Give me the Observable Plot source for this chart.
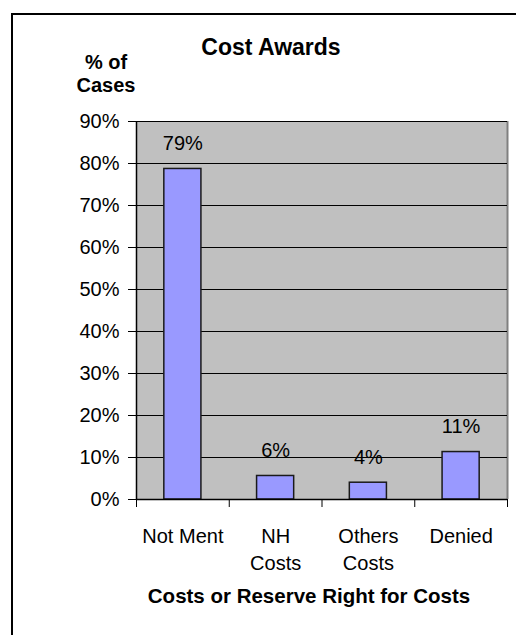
<!DOCTYPE html>
<html>
<head>
<meta charset="utf-8">
<script src="https://cdn.jsdelivr.net/npm/d3@7"></script>
<script src="https://cdn.jsdelivr.net/npm/@observablehq/plot@0.6"></script>
<style>
  html, body { margin: 0; padding: 0; background: #fff; overflow: hidden; }
  #chart { position: relative; width: 516px; height: 635px; overflow: hidden;
           font-family: "Liberation Sans", Arial, sans-serif; color: #000; }
  #border { position: absolute; left: 11px; top: 13px; width: 600px; height: 700px;
            border: 2px solid #000; box-sizing: border-box; }
  #plot { position: absolute; left: 0; top: 0; }
  .title { position: absolute; font-weight: bold; text-align: center; white-space: pre; }
  #main-title { left: 121px; top: 36px; width: 300px; font-size: 23px; line-height: 23px; }
  #y-title { left: 56px; top: 51px; width: 100px; font-size: 20px; line-height: 23px; }
  #x-title { left: 109px; top: 586px; width: 400px; font-size: 20.5px; line-height: 20.5px; }
</style>
</head>
<body>
<div id="chart">
  <div id="border"></div>
  <div id="plot"></div>
  <div class="title" id="main-title">Cost Awards</div>
  <div class="title" id="y-title">% of
Cases</div>
  <div class="title" id="x-title">Costs or Reserve Right for Costs</div>
</div>
<script>
// Cost award outcomes, share of cases (%)
const categories = ["Not Ment", "NH Costs", "Others Costs", "Denied"];
const tickLabels = ["Not Ment", "NH\nCosts", "Others\nCosts", "Denied"];
const shares = [78.7, 5.6, 4.0, 11.3];
const yTicks = [0, 10, 20, 30, 40, 50, 60, 70, 80, 90];

// each category occupies one unit on x; bars fill the middle 40%
const gap = 0.3;
const rows = categories.map((c, i) => ({ i, category: c, label: tickLabels[i], share: shares[i] }));
const pct = d3.format(".0f");

const chart = Plot.plot({
  width: 516,
  height: 635,
  marginTop: 121,
  marginBottom: 136,
  marginLeft: 136,
  marginRight: 9,
  x: { domain: [0, categories.length] },
  y: { domain: [0, 90] },
  style: { fontFamily: "'Liberation Sans', Arial, sans-serif", fontSize: "20px", color: "#000", background: "transparent", overflow: "visible" },
  marks: [
    Plot.frame({ fill: "#c0c0c0", stroke: null }),
    Plot.ruleX([categories.length], { stroke: "#808080", strokeWidth: 2 }),
    Plot.gridY(yTicks, { stroke: "#000", strokeOpacity: 1, strokeWidth: 1.2 }),
    Plot.rect(rows, {
      x1: d => d.i + gap,
      x2: d => d.i + 1 - gap,
      y1: 0,
      y2: "share",
      fill: "#9999ff",
      stroke: "#1a1a1a",
      strokeWidth: 1.5
    }),
    Plot.text(rows, {
      x: d => d.i + 0.5,
      y: "share",
      text: d => pct(d.share) + "%",
      dy: -19,
      lineAnchor: "bottom",
      fontSize: 20,
      fill: "#000"
    }),
    Plot.axisY(yTicks, { tickFormat: d => d + "%", tickSize: 8, tickPadding: 9, label: null, fontSize: 20, stroke: "#000" }),
    Plot.ruleX([0], { stroke: "#000", strokeWidth: 1.5 }),
    Plot.ruleY([0], { stroke: "#000", strokeWidth: 1.5 }),
    Plot.axisX(d3.range(categories.length + 1), { tickFormat: () => "", tickSize: 8, label: null, stroke: "#000" }),
    Plot.axisX(rows.map(d => d.i + 0.5), {
      tickFormat: v => tickLabels[Math.floor(v)],
      tickSize: 0,
      tickPadding: 24,
      lineHeight: 1.35,
      label: null,
      fontSize: 20
    })
  ]
});
document.getElementById("plot").appendChild(chart);
</script>
</body>
</html>
